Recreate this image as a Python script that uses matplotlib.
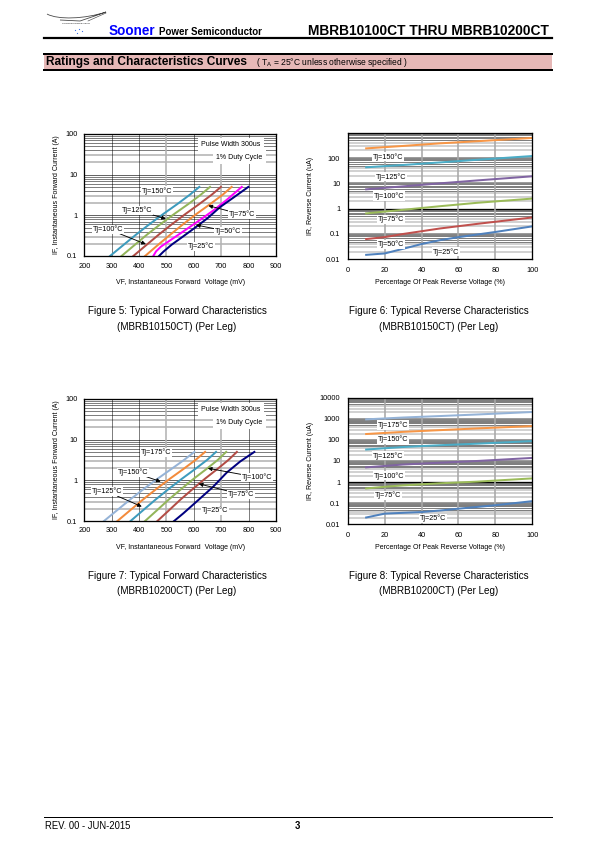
import numpy as np
import matplotlib.pyplot as plt
from matplotlib.patches import Rectangle, PathPatch
from matplotlib.path import Path
from matplotlib.ticker import NullLocator

plt.rcParams['font.family'] = ['Liberation Sans', 'DejaVu Sans']

W, H = 595, 842

# ---- data ----
# Fig 5: forward characteristics MBRB10150CT (VF mV, IF A)
f5_temps = ['150', '125', '100', '75', '50', '25']
f5_vf = [
    [294, 340, 390, 440, 490, 540, 585, 620],
    [336, 381, 430, 480, 530, 580, 625, 659],
    [379, 424, 473, 522, 571, 620, 665, 699],
    [422, 466, 515, 563, 611, 660, 705, 738],
    [452, 462, 480, 520, 570, 620, 670, 720, 775],
    [473, 489, 519, 560, 610, 650, 696, 750, 799],
]
f5_if = [
    [0.1, 0.18, 0.34, 0.62, 1.1, 1.9, 3.2, 5.0],
    [0.1, 0.18, 0.34, 0.62, 1.1, 1.9, 3.2, 5.0],
    [0.1, 0.18, 0.34, 0.62, 1.1, 1.9, 3.2, 5.0],
    [0.1, 0.18, 0.34, 0.62, 1.1, 1.9, 3.2, 5.0],
    [0.1, 0.13, 0.17, 0.26, 0.44, 0.75, 1.3, 2.4, 5.0],
    [0.1, 0.128, 0.19, 0.3, 0.53, 0.85, 1.6, 2.9, 5.0],
]
f5_colors = ['#3d9bbd', '#93b55a', '#b24c45', '#f38b3c', '#ff00ff', '#000080']

# Fig 6: reverse characteristics MBRB10150CT (% VRRM, IR uA)
f6_temps = ['150', '125', '100', '75', '50', '25']
f6_pct = [
    [10, 30, 50, 70, 100],
    [10, 30, 50, 70, 100],
    [10, 30, 50, 70, 100],
    [10, 30, 50, 70, 100],
    [10, 20, 30, 50, 70, 100],
    [10, 20, 30, 40, 50, 60, 80, 100],
]
f6_ir = [
    [240, 300, 380, 460, 620],
    [43, 53, 67, 85, 120],
    [5.8, 7.6, 10, 13, 19],
    [0.65, 0.9, 1.25, 1.7, 2.5],
    [0.063, 0.075, 0.1, 0.165, 0.25, 0.45],
    [0.015, 0.017, 0.026, 0.04, 0.057, 0.075, 0.12, 0.2],
]
f6_colors = ['#f79646', '#4bacc6', '#8064a2', '#9bbb59', '#c0504d', '#4f81bd']

# Fig 7: forward characteristics MBRB10200CT
f7_temps = ['175', '150', '125', '100', '75', '25']
f7_vf = [
    [272, 318, 368, 418, 468, 518, 565, 602],
    [321, 366, 415, 464, 513, 562, 607, 641],
    [369, 413, 461, 509, 557, 605, 649, 681],
    [422, 464, 509, 555, 600, 646, 688, 718],
    [467, 508, 552, 597, 641, 686, 727, 757],
    [528, 562, 610, 671, 720, 769, 821],
]
f7_if = [
    [0.1, 0.18, 0.34, 0.62, 1.1, 1.9, 3.2, 5.0],
    [0.1, 0.18, 0.34, 0.62, 1.1, 1.9, 3.2, 5.0],
    [0.1, 0.18, 0.34, 0.62, 1.1, 1.9, 3.2, 5.0],
    [0.1, 0.18, 0.34, 0.62, 1.1, 1.9, 3.2, 5.0],
    [0.1, 0.18, 0.34, 0.62, 1.1, 1.9, 3.2, 5.0],
    [0.1, 0.155, 0.3, 0.7, 1.55, 2.9, 5.0],
]
f7_colors = ['#95b3d7', '#f38b3c', '#3d9bbd', '#93b55a', '#b24c45', '#000080']

# Fig 8: reverse characteristics MBRB10200CT
f8_temps = ['175', '150', '125', '100', '75', '25']
f8_pct = [
    [10, 30, 50, 70, 100],
    [10, 30, 50, 70, 100],
    [10, 30, 50, 70, 100],
    [10, 30, 50, 70, 100],
    [10, 20, 30, 50, 70, 100],
    [10, 20, 30, 40, 50, 60, 80, 100],
]
f8_ir = [
    [940, 1150, 1350, 1600, 2100],
    [190, 240, 290, 350, 450],
    [35, 46, 56, 66, 88],
    [5, 6.8, 8.3, 10, 14],
    [0.5, 0.6, 0.7, 0.88, 1.05, 1.5],
    [0.021, 0.032, 0.035, 0.038, 0.045, 0.055, 0.08, 0.125],
]
f8_colors = ['#95b3d7', '#f79646', '#4bacc6', '#8064a2', '#9bbb59', '#4f81bd']

fwd_xticks = [200, 300, 400, 500, 600, 700, 800, 900]
fwd_yticks = [0.1, 1, 10, 100]
rev_xticks = [0, 20, 40, 60, 80, 100]

FS = 7.0     # axis titles
TS = 7.4     # tick labels


def rect(l, t, r, b):
    return [l / W, 1 - b / H, (r - l) / W, (b - t) / H]


def note(ax, text, xy, tip=None):
    kw = dict(ha='center', va='center', fontsize=7.2, zorder=5,
              bbox=dict(boxstyle='square,pad=0.1', fc='white', ec='none'))
    if tip is None:
        ax.text(xy[0], xy[1], text, **kw)
    else:
        ax.annotate(text, xy=tip, xytext=xy,
                    arrowprops=dict(arrowstyle='-|>,head_length=0.45,head_width=0.22',
                                    color='black', lw=0.9, shrinkA=0, shrinkB=0),
                    **kw)


def style(ax):
    for s in ax.spines.values():
        s.set_linewidth(1.3)
        s.set_zorder(6)
    ax.yaxis.set_minor_locator(NullLocator())
    ax.tick_params(length=0, labelsize=TS)


def forward_chart(pos, vfs, ifs, colors):
    ax = fig.add_axes(pos)
    ax.set_yscale('log')
    ax.set_xlim(200, 900)
    ax.set_ylim(0.1, 100)
    for d in [0.1, 1, 10]:
        for m in range(2, 10):
            if m in (2, 3):
                ax.axhline(d * m, color='#b4b4b4', lw=1.6, zorder=1)
            else:
                ax.axhline(d * m, color='black', lw=0.5, zorder=1)
        if d > 0.1:
            ax.axhline(d, color='black', lw=0.6, zorder=1)
    for x in fwd_xticks[1:-1]:
        if x in (500, 700):
            ax.axvline(x, color='#b4b4b4', lw=1.6, zorder=1)
        else:
            ax.axvline(x, color='black', lw=0.5, zorder=1)
    for vf, i_f, c in zip(vfs, ifs, colors):
        ax.plot(vf, i_f, color=c, lw=2, zorder=3)
    ax.set_xticks(fwd_xticks)
    ax.set_yticks(fwd_yticks, ['0.1', '1', '10', '100'])
    style(ax)
    ax.tick_params(axis='x', pad=6.5)
    ax.tick_params(axis='y', pad=7)
    ax.set_xlabel('VF, Instantaneous Forward  Voltage (mV)', fontsize=FS, va='center')
    ax.xaxis.set_label_coords(0.5, -0.216)
    ax.set_ylabel('IF, Instantaneous Forward Current (A)', fontsize=FS, va='center')
    ax.yaxis.set_label_coords(-0.144, 0.5)
    ax.text(736, 54, 'Pulse Width 300us', ha='center', va='center', fontsize=FS, zorder=5,
            bbox=dict(boxstyle='square,pad=0.5', fc='white', ec='none'))
    ax.text(766, 27, '1% Duty Cycle', ha='center', va='center', fontsize=FS, zorder=5,
            bbox=dict(boxstyle='square,pad=0.5', fc='white', ec='none'))
    return ax


def reverse_chart(pos, pcts, irs, colors, ytop, ylabels):
    ax = fig.add_axes(pos)
    ax.set_yscale('log')
    ax.set_xlim(0, 100)
    ax.set_ylim(0.01, ytop)
    d = 0.01
    while d < ytop:
        for m in range(2, 10):
            if m <= 4:
                ax.axhline(d * m, color='#c4c4c4', lw=1.5, zorder=1)
            else:
                ax.axhline(d * m, color='black', lw=0.5, zorder=1)
        if d > 0.01:
            if d == 1:
                ax.axhline(d, color='black', lw=1.3, zorder=1)
            else:
                ax.axhline(d, color='#858585', lw=2.6, zorder=1)
        d *= 10
    for x in rev_xticks[1:-1]:
        ax.axvline(x, color='#a8a8a8', lw=1.6, zorder=1)
    for p, ir, c in zip(pcts, irs, colors):
        ax.plot(p, ir, color=c, lw=2, zorder=3)
    ax.set_xticks(rev_xticks)
    ax.set_yticks([float(v) for v in ylabels], ylabels)
    style(ax)
    ax.tick_params(axis='x', pad=7.5)
    ax.tick_params(axis='y', pad=7.5)
    ax.set_xlabel('Percentage Of Peak Reverse Voltage (%)', fontsize=FS, va='center')
    ax.xaxis.set_label_coords(0.5, -0.18)
    ax.set_ylabel('IR, Reverse Current (uA)', fontsize=FS, va='center')
    ax.yaxis.set_label_coords(-0.2, 0.5)
    return ax


fig = plt.figure(figsize=(W / 72, H / 72), dpi=72)

# ---- charts ----
ax5 = forward_chart(rect(84.3, 134, 276, 256), f5_vf, f5_if, f5_colors)
note(ax5, 'Tj=150°C', (467, 4.0))
note(ax5, 'Tj=125°C', (391, 1.33), (498, 0.82))
note(ax5, 'Tj=100°C', (288, 0.455), (425, 0.195))
note(ax5, 'Tj=75°C', (777, 1.04), (653, 1.73))
note(ax5, 'Tj=50°C', (726, 0.40), (608, 0.58))
note(ax5, 'Tj=25°C', (627, 0.17))

ax6 = reverse_chart(rect(347.7, 132.7, 532.3, 259.3), f6_pct, f6_ir, f6_colors,
                    1000, ['0.01', '0.1', '1', '10', '100'])
for t, xy in zip(f6_temps, [(22, 113), (23.3, 18.3), (22.6, 3.16), (23.3, 0.38),
                            (23.3, 0.039), (53.2, 0.02)]):
    note(ax6, 'Tj=%s°C' % t, xy)

ax7 = forward_chart(rect(84.3, 399, 276, 521), f7_vf, f7_if, f7_colors)
note(ax7, 'Tj=175°C', (462, 4.9))
note(ax7, 'Tj=150°C', (379, 1.58), (479, 0.93))
note(ax7, 'Tj=125°C', (282, 0.53), (410, 0.226))
note(ax7, 'Tj=100°C', (830, 1.19), (651, 1.98))
note(ax7, 'Tj=75°C', (772, 0.455), (618, 0.82))
note(ax7, 'Tj=25°C', (677, 0.18))

ax8 = reverse_chart(rect(347.7, 397.7, 532.3, 524.3), f8_pct, f8_ir, f8_colors,
                    10000, ['0.01', '0.1', '1', '10', '100', '1000', '10000'])
for t, xy in zip(f8_temps, [(24.7, 507), (24.7, 106), (22, 17.9), (22.6, 2.02),
                            (22, 0.228), (46.4, 0.0192)]):
    note(ax8, 'Tj=%s°C' % t, xy)

# ---- page furniture (pixel coordinates) ----
page = fig.add_axes([0, 0, 1, 1], zorder=-1)
page.set_xlim(0, W)
page.set_ylim(H, 0)
page.axis('off')

# logo
swoosh = Path([(47, 14), (58, 20), (85, 19), (106, 12),
               (95, 16), (80, 21), (60, 20)],
              [Path.MOVETO, Path.CURVE4, Path.CURVE4, Path.CURVE4,
               Path.CURVE3, Path.CURVE3, Path.LINETO])
page.add_patch(PathPatch(swoosh, fc='none', ec='#444444', lw=0.8))
page.plot([88, 106], [21, 13], color='#444444', lw=0.6)
page.text(76, 24, 'SOONER POWER SEMI', fontsize=2.3, ha='center', va='center',
          family='DejaVu Serif')
page.scatter([75, 79, 82, 77], [30, 29, 31, 33], s=1.5, color='#3a6ee8', lw=0)

page.text(108.3, 35, 'Sooner', color='#0000ff', fontsize=13.5, weight='bold', va='baseline')
page.text(159, 35, 'Power Semiconductor', fontsize=9.8, weight='bold', va='baseline')
page.text(549, 35, 'MBRB10100CT THRU MBRB10200CT', fontsize=13.8, weight='bold',
          ha='right', va='baseline')
page.plot([44, 552], [38, 38], color='black', lw=2.2)

page.add_patch(Rectangle((44, 54), 508, 16, fc='#e6b8b7', ec='none'))
page.plot([44, 552], [53.7, 53.7], color='black', lw=2)
page.plot([44, 552], [70.3, 70.3], color='black', lw=2)
page.text(46.5, 62.3, 'Ratings and Characteristics Curves', fontsize=11.9, weight='bold',
          va='center')
page.text(256, 62.5, '( T$_\\mathregular{A}$ = 25°C unless otherwise specified )',
          fontsize=8.5, va='center')

captions = [
    (177, 311, 'Figure 5: Typical Forward Characteristics', '(MBRB10150CT) (Per Leg)'),
    (438.5, 311, 'Figure 6: Typical Reverse Characteristics', '(MBRB10150CT) (Per Leg)'),
    (177, 576, 'Figure 7: Typical Forward Characteristics', '(MBRB10200CT) (Per Leg)'),
    (438.5, 576, 'Figure 8: Typical Reverse Characteristics', '(MBRB10200CT) (Per Leg)'),
]
for x, y, l1, l2 in captions:
    page.text(x, y, l1, fontsize=9.9, ha='center', va='center')
    page.text(x, y + 15.5, l2, fontsize=9.9, ha='center', va='center')

page.plot([44, 552], [817.3, 817.3], color='black', lw=1)
page.text(45, 826, 'REV. 00 - JUN-2015', fontsize=9.5, va='center')
page.text(297, 826, '3', fontsize=9.5, weight='bold', ha='center', va='center')

fig.savefig('out.png', dpi=72)
